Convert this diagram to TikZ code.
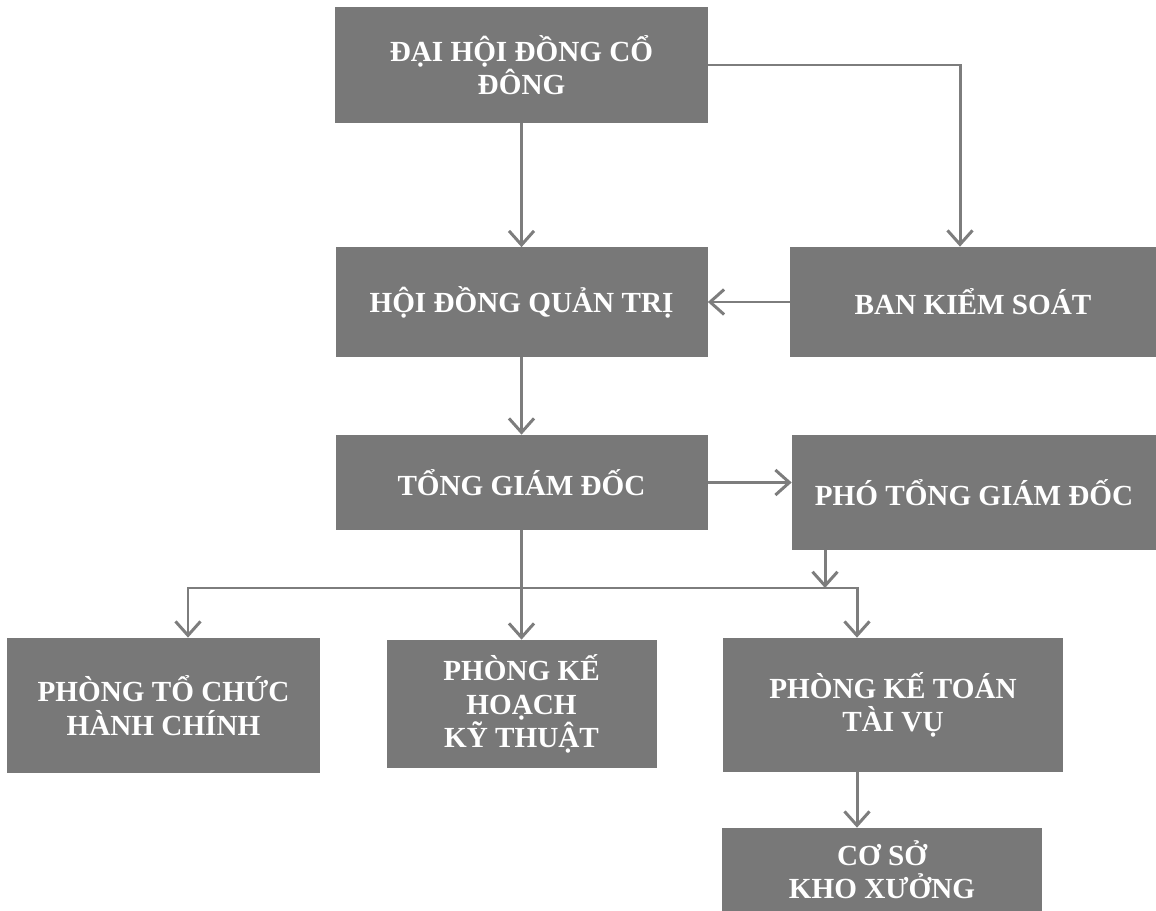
\documentclass[tikz,border=0pt]{standalone}
\usepackage{fontspec}
\setmainfont{Liberation Serif}
\usetikzlibrary{arrows.meta}

\definecolor{boxgray}{RGB}{120,120,120}
\definecolor{linegray}{RGB}{125,125,125}

\tikzset{
  unit/.style={fill=boxgray, text=white, align=center, inner sep=0pt,
    font=\bfseries\fontsize{16.6}{19}\selectfont},
  link/.style={draw=linegray, line width=1.7pt,
    -{Straight Barb[length=2.8mm,width=5mm]}},
  plain/.style={draw=linegray, line width=1.7pt},
}

\begin{document}
\begin{tikzpicture}
\useasboundingbox (0,0) rectangle (23.12,-18.22);

% Top level
\node[unit, minimum width=7.46cm, minimum height=2.32cm] (dhcd) at (10.43,-1.30) {ĐẠI HỘI ĐỒNG CỔ\\ĐÔNG};

% Board and control
\node[unit, minimum width=7.44cm, minimum height=2.18cm] (hdqt) at (10.43,-6.04) {HỘI ĐỒNG QUẢN TRỊ};
\node[unit, minimum width=7.32cm, minimum height=2.2cm] (bks) at (19.46,-6.04) {BAN KIỂM SOÁT};

% Directors
\node[unit, minimum width=7.44cm, minimum height=1.9cm] (tgd) at (10.43,-9.65) {TỔNG GIÁM ĐỐC};
\node[unit, minimum width=7.28cm, minimum height=2.3cm] (ptgd) at (19.48,-9.85) {PHÓ TỔNG GIÁM ĐỐC};

% Departments
\node[unit, minimum width=6.26cm, minimum height=2.7cm] (ptchc) at (3.27,-14.11) {PHÒNG TỔ CHỨC\\HÀNH CHÍNH};
\node[unit, minimum width=5.4cm, minimum height=2.56cm] (pkhkt) at (10.43,-14.08) {PHÒNG KẾ\\HOẠCH\\KỸ THUẬT};
\node[unit, minimum width=6.8cm, minimum height=2.68cm] (pkttv) at (17.86,-14.1) {PHÒNG KẾ TOÁN\\TÀI VỤ};
\node[unit, minimum width=6.4cm, minimum height=1.66cm] (cskx) at (17.64,-17.39) {CƠ SỞ\\KHO XƯỞNG};

% Arrows
\draw[link] (dhcd) -- (hdqt);
\draw[link] (dhcd.east) -| ([xshift=-0.26cm]bks.north);
\draw[link] (bks) -- (hdqt);
\draw[link] (hdqt) -- (tgd);
\draw[link] (tgd.east) -- (tgd.east -| ptgd.west);

% Bus line
\coordinate (bus) at (10.43,-11.76);
\draw[plain] (tgd.south) -- (bus);
\draw[link] (bus) -| ([xshift=0.49cm]ptchc.north);
\draw[link] (bus) -- (pkhkt);
\draw[link] (bus) -| ([xshift=-0.72cm]pkttv.north);
\draw[link] ([xshift=-2.98cm]ptgd.south) -- ([xshift=-2.98cm]ptgd.south |- bus);
\draw[link] ([xshift=-0.72cm]pkttv.south) -- ([xshift=-0.5cm]cskx.north);

\end{tikzpicture}
\end{document}
